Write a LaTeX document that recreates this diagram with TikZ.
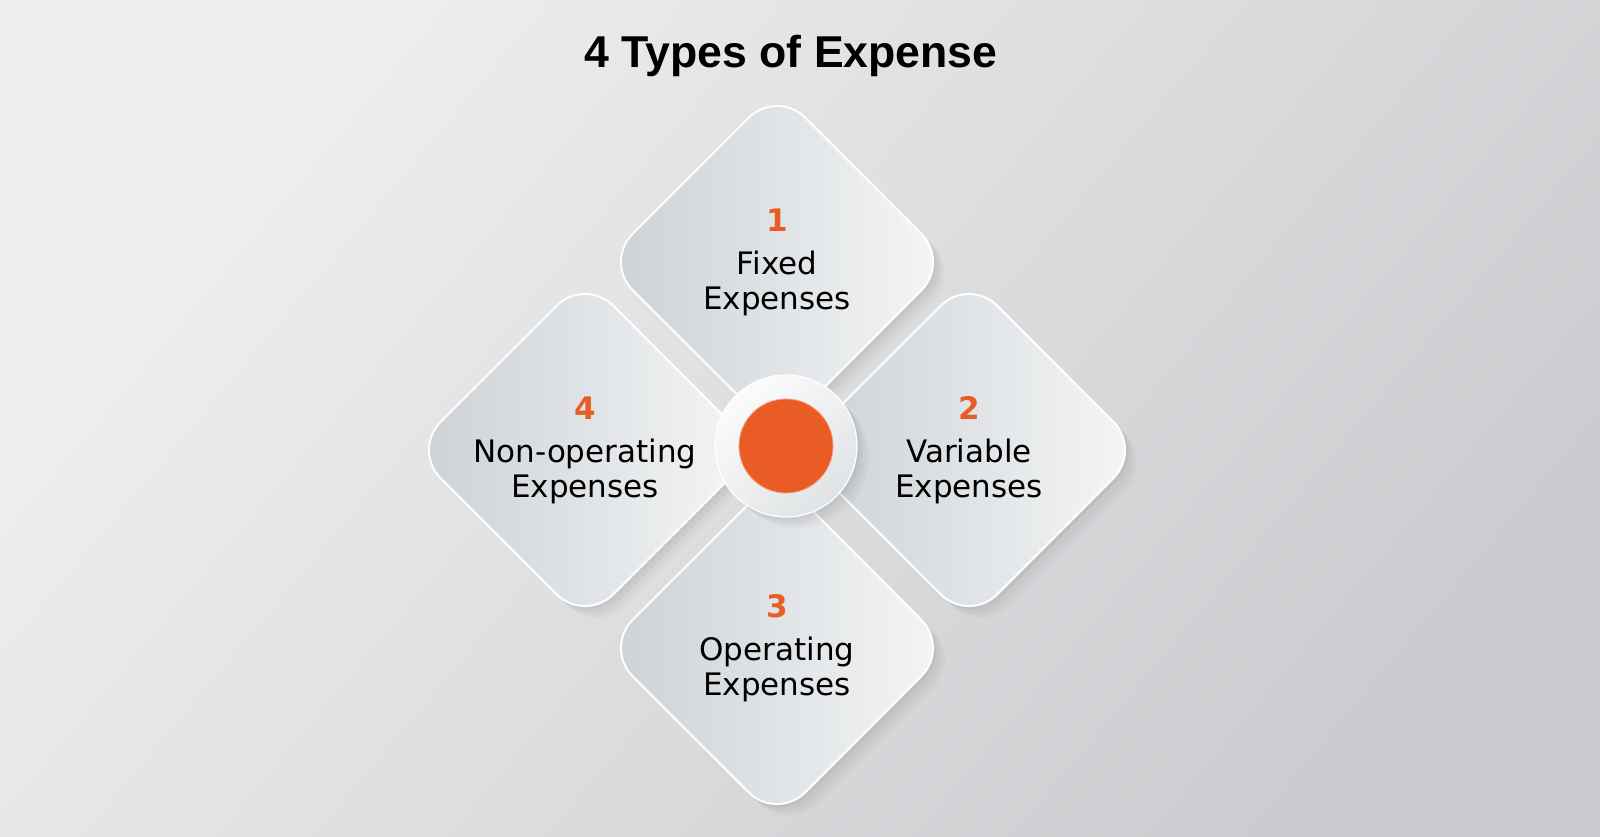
\documentclass[tikz,border=0pt]{standalone}
\usepackage{fontspec}
\setmainfont{DejaVu Sans}
\newfontfamily\headfont{Liberation Sans}
\usepackage{tikz}
\usetikzlibrary{positioning,shapes.geometric,shadows}
\definecolor{bglight}{RGB}{239,239,239}
\definecolor{bgdark}{RGB}{202,204,207}
\definecolor{tileleft}{RGB}{204,209,213}
\definecolor{tileright}{RGB}{245,246,247}
\definecolor{ringedge}{RGB}{224,227,229}
\definecolor{expenseorange}{RGB}{234,92,37}

\begin{document}
\begin{tikzpicture}[x=0.5pt, y=-0.5pt, node distance=94pt and 96pt, on grid,
	softshadow/.style={
		general shadow={shadow xshift=1.5pt, shadow yshift=-1.5pt, fill=black, opacity=.035},
		general shadow={shadow xshift=3pt, shadow yshift=-3pt, fill=black, opacity=.03},
		general shadow={shadow xshift=4.5pt, shadow yshift=-4.5pt, fill=black, opacity=.025},
		general shadow={shadow xshift=6pt, shadow yshift=-6pt, fill=black, opacity=.02}},
	tile/.style={diamond, aspect=1, minimum size=173pt, inner sep=0pt, rounded corners=20pt,
		left color=tileleft, right color=tileright, draw=white!85!tileright, line width=1pt, softshadow,
		align=center, text=black, font=\fontsize{15.5}{17.5}\selectfont}]
	% background
	\useasboundingbox (0,0) rectangle (1600,836);
	\shade[top color=bglight, bottom color=bgdark, shading angle=50] (0,0) rectangle (1600,836);
	\node [font=\headfont\bfseries\fontsize{22.3}{26}\selectfont, anchor=base] (title) at (791,67) {4 Types of Expense};
	% the four tiles
	\node [tile] (fixed) at (777,262) {{\bfseries\color{expenseorange}1}\\[4pt]Fixed\\Expenses};
	\node [tile] (variable) [below right =of fixed] {{\bfseries\color{expenseorange}2}\\[4pt]Variable\\Expenses};
	\node [tile] (operating) [below =193pt of fixed] {{\bfseries\color{expenseorange}3}\\[4pt]Operating\\Expenses};
	\node [tile] (nonop) [below left =of fixed] {{\bfseries\color{expenseorange}4}\\[4pt]Non-operating\\Expenses};
	% hub
	\node [circle, minimum size=71pt, inner sep=0pt, top color=white!60!tileright, bottom color=ringedge, shading angle=40,
		draw=white, line width=0.6pt, softshadow] (hub) at (786,446) {};
	\node [circle, minimum size=47pt, inner sep=0pt, fill=expenseorange, draw=expenseorange!60!white, line width=0.4pt] (dot) at (hub) {};
\end{tikzpicture}
\end{document}
